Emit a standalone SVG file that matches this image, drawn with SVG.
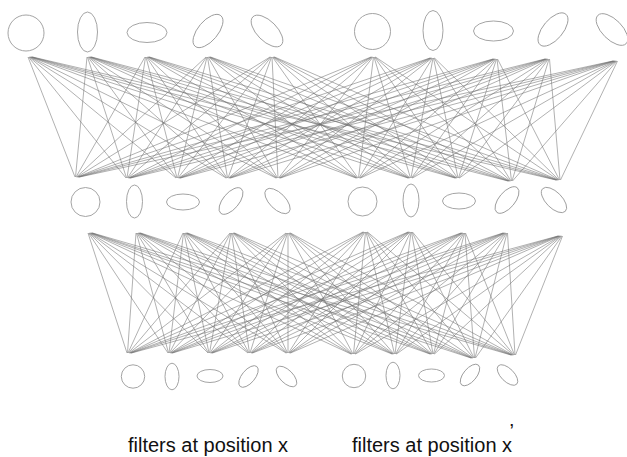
<svg xmlns="http://www.w3.org/2000/svg" width="627" height="457" viewBox="0 0 627 457">
  <style>
    .flt { fill: none; stroke: #9a9a9a; stroke-width: 0.9; }
    .wire { fill: none; stroke: #707070; stroke-width: 0.55; }
    .lbl { font-family: "Liberation Sans", Arial, sans-serif; font-size: 20px; fill: #111; }
  </style>

  <!-- Row 1: filters, two positions -->
  <g id="row1">
    <g id="r1-a1"><ellipse class="flt" cx="26" cy="33" rx="18" ry="18"/></g>
    <g id="r1-a2"><ellipse class="flt" cx="87.5" cy="32" rx="10" ry="20"/></g>
    <g id="r1-a3"><ellipse class="flt" cx="147" cy="32.5" rx="20" ry="10"/></g>
    <g id="r1-a4"><ellipse class="flt" cx="0" cy="0" rx="20" ry="10" transform="translate(208 31) rotate(-50)"/></g>
    <g id="r1-a5"><ellipse class="flt" cx="0" cy="0" rx="20" ry="10" transform="translate(267 31) rotate(45)"/></g>
    <g id="r1-b1"><ellipse class="flt" cx="372.5" cy="31.5" rx="18" ry="18"/></g>
    <g id="r1-b2"><ellipse class="flt" cx="433" cy="30.5" rx="10" ry="20"/></g>
    <g id="r1-b3"><ellipse class="flt" cx="493.5" cy="31" rx="20" ry="10"/></g>
    <g id="r1-b4"><ellipse class="flt" cx="0" cy="0" rx="20" ry="10" transform="translate(553 29.5) rotate(-50)"/></g>
    <g id="r1-b5"><ellipse class="flt" cx="0" cy="0" rx="20" ry="10" transform="translate(612 29.5) rotate(45)"/></g>
  </g>

  <!-- Row 2 -->
  <g id="row2">
    <g id="r2-a1"><ellipse class="flt" cx="85.5" cy="202" rx="14.5" ry="14.5"/></g>
    <g id="r2-a2"><ellipse class="flt" cx="134.5" cy="201.5" rx="8" ry="16.5"/></g>
    <g id="r2-a3"><ellipse class="flt" cx="183" cy="202" rx="16.5" ry="8"/></g>
    <g id="r2-a4"><ellipse class="flt" cx="0" cy="0" rx="16" ry="8" transform="translate(231 201) rotate(-50)"/></g>
    <g id="r2-a5"><ellipse class="flt" cx="0" cy="0" rx="16" ry="8" transform="translate(277.5 201) rotate(45)"/></g>
    <g id="r2-b1"><ellipse class="flt" cx="362.5" cy="201.5" rx="14.5" ry="14.5"/></g>
    <g id="r2-b2"><ellipse class="flt" cx="411" cy="200.5" rx="8" ry="16.5"/></g>
    <g id="r2-b3"><ellipse class="flt" cx="459" cy="201" rx="16.5" ry="8"/></g>
    <g id="r2-b4"><ellipse class="flt" cx="0" cy="0" rx="16" ry="8" transform="translate(507 200) rotate(-50)"/></g>
    <g id="r2-b5"><ellipse class="flt" cx="0" cy="0" rx="16" ry="8" transform="translate(554 200) rotate(45)"/></g>
  </g>

  <!-- Row 3 -->
  <g id="row3">
    <g id="r3-a1"><ellipse class="flt" cx="133" cy="376.5" rx="11.7" ry="11.7"/></g>
    <g id="r3-a2"><ellipse class="flt" cx="172" cy="376.5" rx="7" ry="13.3"/></g>
    <g id="r3-a3"><ellipse class="flt" cx="210" cy="376" rx="13" ry="6.5"/></g>
    <g id="r3-a4"><ellipse class="flt" cx="0" cy="0" rx="13" ry="6.5" transform="translate(248.5 376.5) rotate(-50)"/></g>
    <g id="r3-a5"><ellipse class="flt" cx="0" cy="0" rx="13" ry="6.5" transform="translate(286.5 376.5) rotate(45)"/></g>
    <g id="r3-b1"><ellipse class="flt" cx="354" cy="376" rx="11.7" ry="11.7"/></g>
    <g id="r3-b2"><ellipse class="flt" cx="393" cy="375.5" rx="7" ry="13.3"/></g>
    <g id="r3-b3"><ellipse class="flt" cx="431.5" cy="375.5" rx="13" ry="6.5"/></g>
    <g id="r3-b4"><ellipse class="flt" cx="0" cy="0" rx="13" ry="6.5" transform="translate(470 375) rotate(-50)"/></g>
    <g id="r3-b5"><ellipse class="flt" cx="0" cy="0" rx="13" ry="6.5" transform="translate(507.5 375) rotate(45)"/></g>
  </g>

  <!-- Connectors: full mesh between row 1 and row 2 -->
  <g id="connectors">
    <g id="mesh1">
      <path class="wire" d="M28 57L75 177M28.5 57L126 178M29 57L176 178M29.5 57L226 178M30 57L276 178M30.5 57L356 178M31 57L408 178M31.5 57L455 178M32 57L508 181M32.5 57L556 180"/>
      <path class="wire" d="M87 57L75.5 177M87.5 57L126.5 178M88 57L176.5 178M88.5 57L226.5 178M89 57L276.5 178M89.5 57L356.5 178M90 57L408.5 178M90.5 57L455.5 178M91 57L508.5 181M91.5 57L556.5 180"/>
      <path class="wire" d="M145 57L76 177M145.5 57L127 178M146 57L177 178M146.5 57L227 178M147 57L277 178M147.5 57L357 178M148 57L409 178M148.5 57L456 178M149 57L509 181M149.5 57L557 180"/>
      <path class="wire" d="M206 57L76.5 177M206.5 57L127.5 178M207 57L177.5 178M207.5 57L227.5 178M208 57L277.5 178M208.5 57L357.5 178M209 57L409.5 178M209.5 57L456.5 178M210 57L509.5 181M210.5 57L557.5 180"/>
      <path class="wire" d="M270 57L77 177M270.5 57L128 178M271 57L178 178M271.5 57L228 178M272 57L278 178M272.5 57L358 178M273 57L410 178M273.5 57L457 178M274 57L510 181M274.5 57L558 180"/>
      <path class="wire" d="M371 57L77.5 177M371.5 57L128.5 178M372 57L178.5 178M372.5 57L228.5 178M373 57L278.5 178M373.5 57L358.5 178M374 57L410.5 178M374.5 57L457.5 178M375 57L510.5 181M375.5 57L558.5 180"/>
      <path class="wire" d="M430 58L78 177M430.5 58L129 178M431 58L179 178M431.5 58L229 178M432 58L279 178M432.5 58L359 178M433 58L411 178M433.5 58L458 178M434 58L511 181M434.5 58L559 180"/>
      <path class="wire" d="M493 59L78.5 177M493.5 59L129.5 178M494 59L179.5 178M494.5 59L229.5 178M495 59L279.5 178M495.5 59L359.5 178M496 59L411.5 178M496.5 59L458.5 178M497 59L511.5 181M497.5 59L559.5 180"/>
      <path class="wire" d="M545 59L79 177M545.5 59L130 178M546 59L180 178M546.5 59L230 178M547 59L280 178M547.5 59L360 178M548 59L412 178M548.5 59L459 178M549 59L512 181M549.5 59L560 180"/>
      <path class="wire" d="M613 61L79.5 177M613.5 61L130.5 178M614 61L180.5 178M614.5 61L230.5 178M615 61L280.5 178M615.5 61L360.5 178M616 61L412.5 178M616.5 61L459.5 178M617 61L512.5 181M617.5 61L560.5 180"/>
    </g>
    <!-- Full mesh between row 2 and row 3 -->
    <g id="mesh2">
      <path class="wire" d="M88 233L127 353M88.5 233L168 353M89 233L208 353M89.5 233L248 353M90 233L286 353M90.5 233L351 354M91 233L392 354M91.5 233L430 354M92 233L471 358M92.5 233L511 355"/>
      <path class="wire" d="M136 233L127.5 353M136.5 233L168.5 353M137 233L208.5 353M137.5 233L248.5 353M138 233L286.5 353M138.5 233L351.5 354M139 233L392.5 354M139.5 233L430.5 354M140 233L471.5 358M140.5 233L511.5 355"/>
      <path class="wire" d="M183 233L128 353M183.5 233L169 353M184 233L209 353M184.5 233L249 353M185 233L287 353M185.5 233L352 354M186 233L393 354M186.5 233L431 354M187 233L472 358M187.5 233L512 355"/>
      <path class="wire" d="M230 233L128.5 353M230.5 233L169.5 353M231 233L209.5 353M231.5 233L249.5 353M232 233L287.5 353M232.5 233L352.5 354M233 233L393.5 354M233.5 233L431.5 354M234 233L472.5 358M234.5 233L512.5 355"/>
      <path class="wire" d="M286 233L129 353M286.5 233L170 353M287 233L210 353M287.5 233L250 353M288 233L288 353M288.5 233L353 354M289 233L394 354M289.5 233L432 354M290 233L473 358M290.5 233L513 355"/>
      <path class="wire" d="M363 232L129.5 353M363.5 232L170.5 353M364 232L210.5 353M364.5 232L250.5 353M365 232L288.5 353M365.5 232L353.5 354M366 232L394.5 354M366.5 232L432.5 354M367 232L473.5 358M367.5 232L513.5 355"/>
      <path class="wire" d="M408 232L130 353M408.5 232L171 353M409 232L211 353M409.5 232L251 353M410 232L289 353M410.5 232L354 354M411 232L395 354M411.5 232L433 354M412 232L474 358M412.5 232L514 355"/>
      <path class="wire" d="M461 233L130.5 353M461.5 233L171.5 353M462 233L211.5 353M462.5 233L251.5 353M463 233L289.5 353M463.5 233L354.5 354M464 233L395.5 354M464.5 233L433.5 354M465 233L474.5 358M465.5 233L514.5 355"/>
      <path class="wire" d="M503 233L131 353M503.5 233L172 353M504 233L212 353M504.5 233L252 353M505 233L290 353M505.5 233L355 354M506 233L396 354M506.5 233L434 354M507 233L475 358M507.5 233L515 355"/>
      <path class="wire" d="M558 236L131.5 353M558.5 236L172.5 353M559 236L212.5 353M559.5 236L252.5 353M560 236L290.5 353M560.5 236L355.5 354M561 236L396.5 354M561.5 236L434.5 354M562 236L475.5 358M562.5 236L515.5 355"/>
    </g>
  </g>

  <!-- Labels -->
  <g id="labels">
    <text class="lbl" x="128" y="451.5">filters at position x</text>
    <text class="lbl" x="352" y="451.5">filters at position x<tspan dx="-2.5" dy="-14">’</tspan></text>
  </g>
</svg>
